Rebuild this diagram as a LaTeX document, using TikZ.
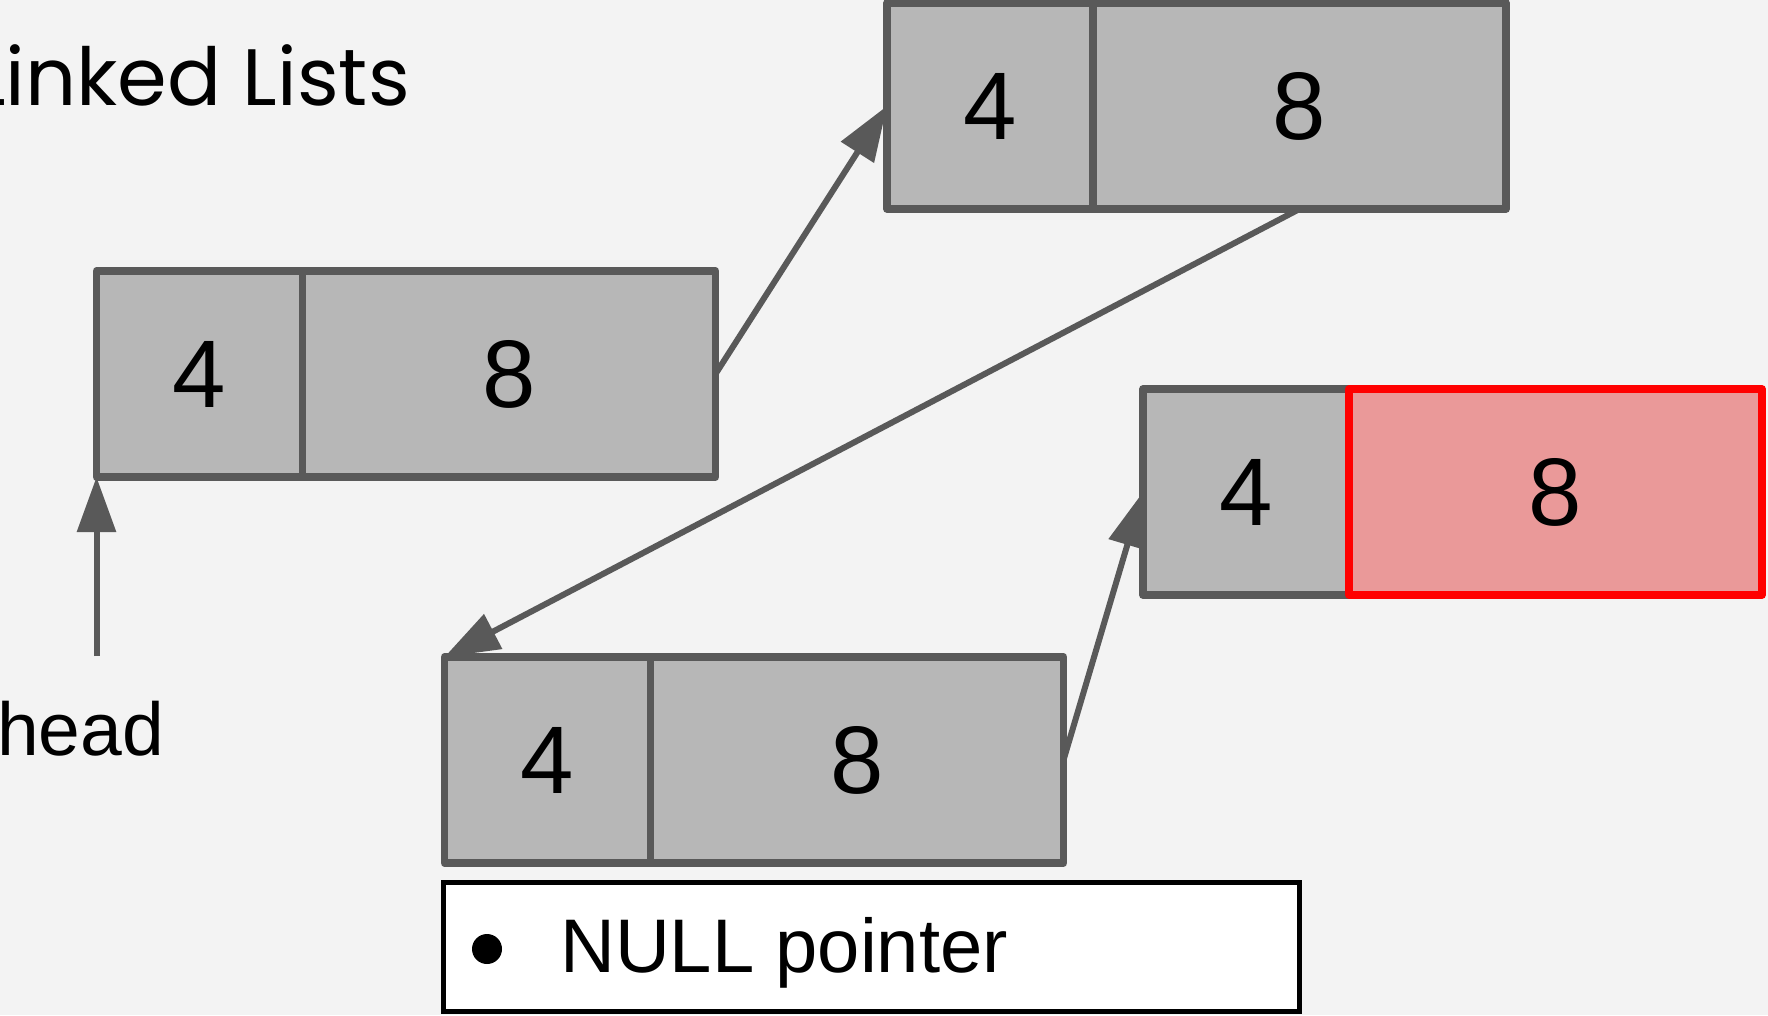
\documentclass[tikz,border=0pt]{standalone}
\usepackage{fontspec}
\setmainfont{Liberation Sans}
\newfontfamily\titlefont{Poppins}
\usetikzlibrary{arrows.meta}
\definecolor{bg}{HTML}{F3F3F3}
\definecolor{cellfill}{HTML}{B7B7B7}
\definecolor{cellline}{HTML}{595959}
\definecolor{hotline}{HTML}{FF0000}
\definecolor{hotfill}{HTML}{EA9999}
\tikzset{
  cell/.style={draw=cellline, fill=cellfill, line width=7.5pt, line join=round,
    rectangle, inner sep=0pt, outer sep=0pt, minimum height=206pt,
    font=\fontsize{96}{100}\selectfont},
  keycell/.style={cell, minimum width=206pt},
  ptrcell/.style={cell, minimum width=413pt},
  hotcell/.style={ptrcell, draw=hotline, fill=hotfill},
  link/.style={draw=cellline, line width=6pt,
    -{Triangle[length=55pt, width=38pt]}},
}
\begin{document}
\begin{tikzpicture}[x=1pt, y=-1pt]
  \useasboundingbox[fill=bg] (0,0) rectangle (1768,1015);

  % title
  \node[anchor=base east, inner sep=0pt, font=\titlefont\fontsize{80}{90}\selectfont]
    (title) at (410,105) {Linked Lists};

  % list nodes: key cell + pointer cell
  \node[keycell] (a4) at (199.5,374) {4};
  \node[ptrcell, anchor=west] (a8) at (a4.east) {8};

  \node[keycell] (b4) at (990,106) {4};
  \node[ptrcell, anchor=west] (b8) at (b4.east) {8};

  \node[keycell] (c4) at (547.5,760) {4};
  \node[ptrcell, anchor=west] (c8) at (c4.east) {8};

  \node[keycell] (d4) at (1246,492) {4};
  \node[hotcell, anchor=west] (d8) at (d4.east) {8};

  % head pointer
  \node[anchor=base west, inner sep=0pt, font=\fontsize{75}{80}\selectfont]
    (head) at (-3,755) {head};
  \coordinate (headtail) at (96.5,656);
  \draw[link] (headtail) -- (a4.south west);

  % links between nodes
  \draw[link] (a8.east) -- (b4.west);
  \draw[link] (b8.south) -- (c4.north west);
  \draw[link] (c8.east) -- (d4.west);

  % legend
  \node[draw=black, fill=white, line width=5pt, minimum width=856pt,
    minimum height=129pt, inner sep=0pt, outer sep=0pt, anchor=north west]
    (legend) at (443,882) {};
  \fill (487,949) circle (15pt);
  \node[anchor=base west, inner sep=0pt, font=\fontsize{76}{80}\selectfont]
    (nulltext) at (560,972) {NULL pointer};
\end{tikzpicture}
\end{document}
